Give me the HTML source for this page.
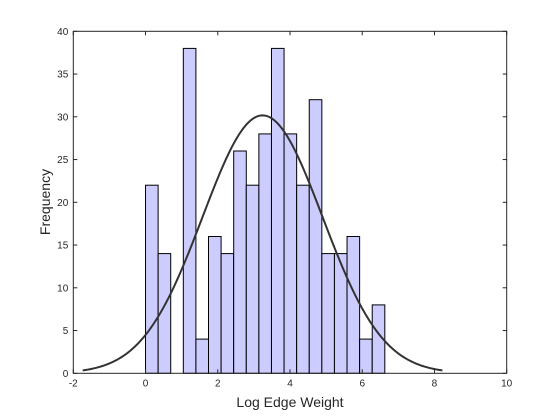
<!DOCTYPE html>
<html><head><meta charset="utf-8"><style>
body{margin:0;background:#fff;}
svg{display:block;font-family:"Liberation Sans",sans-serif;}
</style></head><body>
<svg id="chart" width="560" height="420">
<rect x="0" y="0" width="560" height="420" fill="#fff"/>
<g id="bars"></g>
<g id="curve"></g>
<g id="axes"></g>
<text x="290" y="407" font-size="14" fill="#262626" text-anchor="middle">Log Edge Weight</text>
<text transform="translate(50,202) rotate(-90)" font-size="14" fill="#262626" text-anchor="middle">Frequency</text>
</svg>
<script>
const binStart = 0;
const binWidth = 0.3487;
const counts = [22,14,0,38,4,16,14,26,22,28,38,28,22,32,14,14,16,4,8];
const fitMean = [3.24];
const fitSigma = [1.66];
const xTicks = [-2,0,2,4,6,8,10];
const yTicks = [0,5,10,15,20,25,30,35,40];
const L=73.3,R=506.7,T=31.3,B=373.3;
const sx=v=>L+(v+2)/12*(R-L);
const sy=v=>B-v/40*(B-T);
const NS="http://www.w3.org/2000/svg";
function mk(tag,attrs,parent){const e=document.createElementNS(NS,tag);for(const k in attrs)e.setAttribute(k,attrs[k]);parent.appendChild(e);return e;}
const bars=document.getElementById('bars');
counts.forEach((c,i)=>{
  if(c<=0)return;
  const x0=sx(binStart+i*binWidth),x1=sx(binStart+(i+1)*binWidth);
  const r=mk('rect',{x:x0,y:sy(c),width:x1-x0,height:sy(0)-sy(c),fill:'#ccccff',stroke:'#000','stroke-width':1},bars);
  
  
});
const N=counts.reduce((a,b)=>a+b,0);
const mu=fitMean[0],sg=fitSigma[0];
const amp=N*binWidth/(sg*Math.sqrt(2*Math.PI));
let d='';
for(let k=0;k<=200;k++){
  const x=mu-3*sg+6*sg*k/200;
  const y=amp*Math.exp(-((x-mu)**2)/(2*sg*sg));
  d+=(k?'L':'M')+sx(x).toFixed(2)+','+sy(y).toFixed(2);
}
const p=mk('path',{d:d,fill:'none',stroke:'#333','stroke-width':2},document.getElementById('curve'));


const ax=document.getElementById('axes');
const box=mk('rect',{x:L,y:T,width:R-L,height:B-T,fill:'none',stroke:'#262626','stroke-width':1},ax);


xTicks.forEach(v=>{
  const x=sx(v);
  mk('line',{x1:x,y1:B,x2:x,y2:B-4,stroke:'#262626'},ax);
  mk('line',{x1:x,y1:T,x2:x,y2:T+4,stroke:'#262626'},ax);
  const t=mk('text',{x:x,y:B+13,'font-size':10,fill:'#262626','text-anchor':'middle'},ax);
  t.textContent=v;
  
  
});
yTicks.forEach(v=>{
  const y=sy(v);
  mk('line',{x1:L,y1:y,x2:L+4,y2:y,stroke:'#262626'},ax);
  mk('line',{x1:R,y1:y,x2:R-4,y2:y,stroke:'#262626'},ax);
  const t=mk('text',{x:L-5,y:y+3.5,'font-size':10,fill:'#262626','text-anchor':'end'},ax);
  t.textContent=v;
  
  
});
</script>
</body></html>
